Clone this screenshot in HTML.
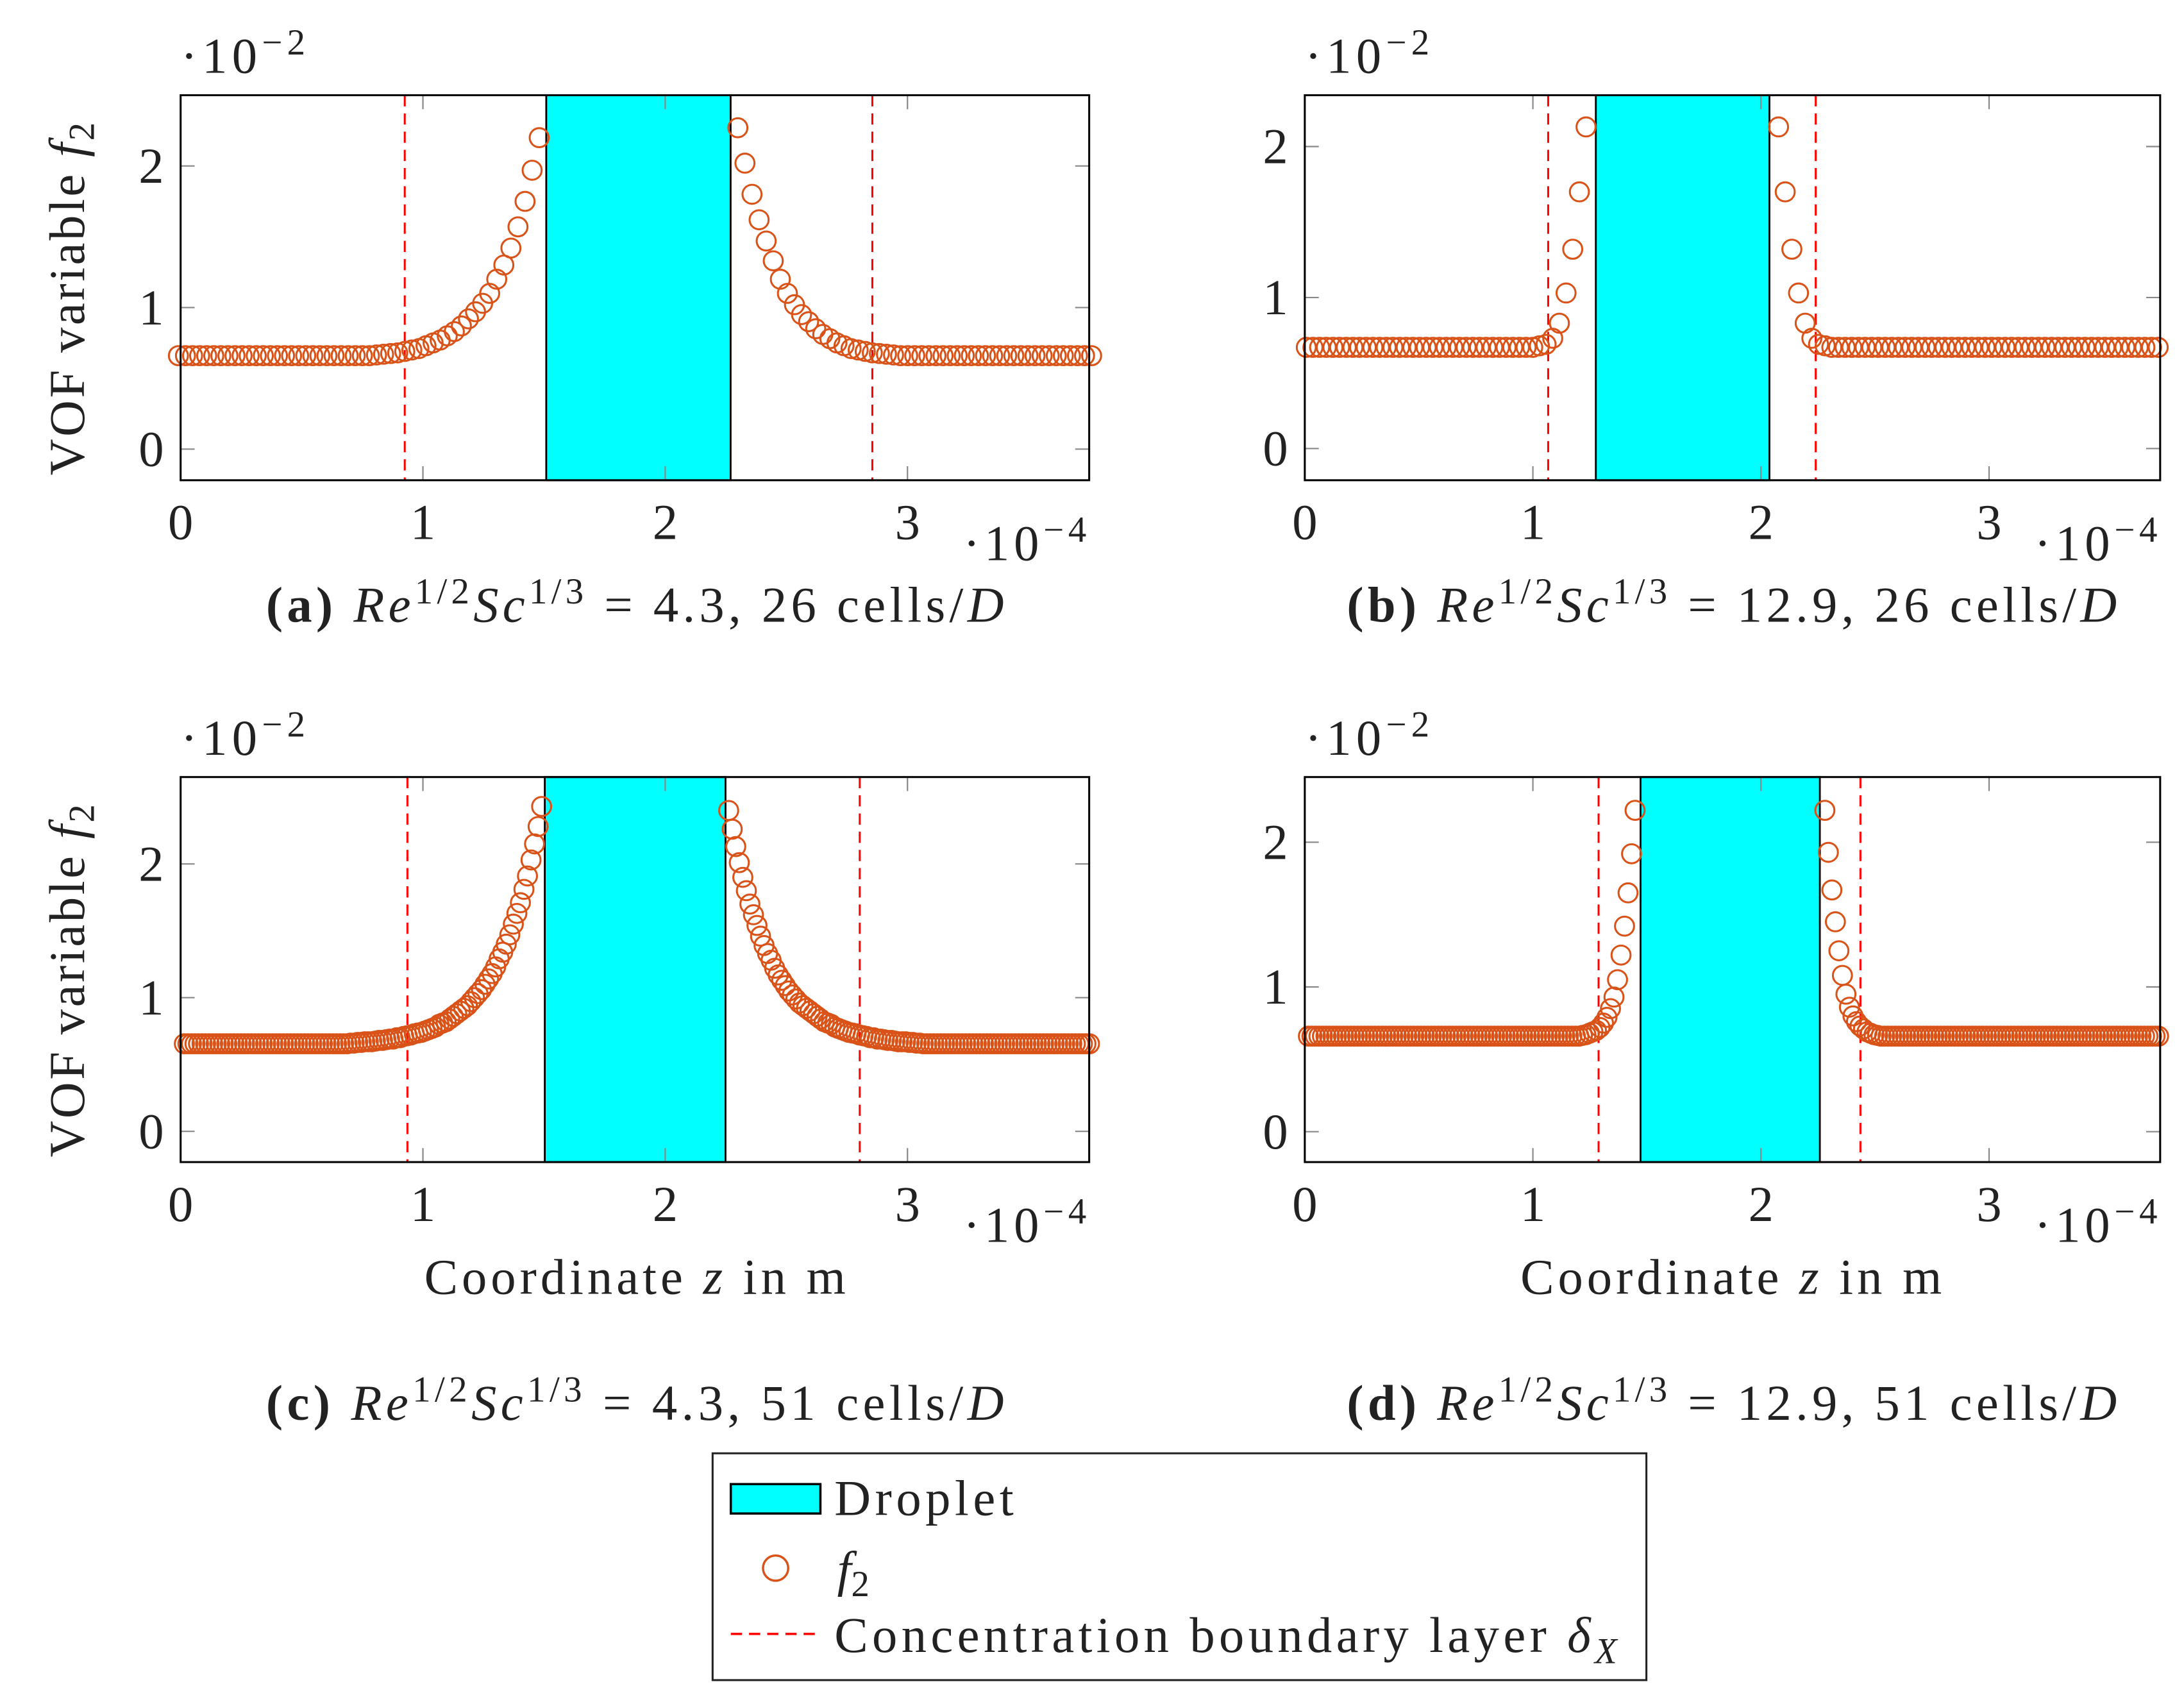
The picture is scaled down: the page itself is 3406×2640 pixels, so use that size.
<!DOCTYPE html>
<html><head><meta charset="utf-8"><style>
html,body{margin:0;padding:0;background:#fff}
svg{display:block}
text{font-family:"Liberation Serif",serif;fill:#222}
</style></head><body>
<svg id="fig" width="3406" height="2640" viewBox="0 0 1560 1209.2" xmlns="http://www.w3.org/2000/svg"></svg>
<script>
// ---------- data ----------
const panelIds = ['a','b','c','d'];
const captionRe = ['4.3','12.9','4.3','12.9'];
const captionCells = ['26','26','51','51'];
const xTicks = [0,1,2,3];
const yTicks = [0,1,2];
const xMin = 0, xMax = 3.75;
const yMinA = -0.22, yMaxA = 2.5;
const yMinB = -0.21, yMaxB = 2.34;
const yMinC = -0.23, yMaxC = 2.65;
const yMinD = -0.21, yMaxD = 2.45;
const dropletA = [1.509, 2.27], dropletB = [1.276, 2.037], dropletC = [1.503, 2.249], dropletD = [1.472, 2.258];
const layerA = [0.925, 2.855], layerB = [1.067, 2.24], layerC = [0.936, 2.803], layerD = [1.288, 2.436];
const cellA = 0.0292, cellB = 0.0292, cellC = 0.0146, cellD = 0.0154;
const flatA = 0.66, flatB = 0.67, flatC = 0.655, flatD = 0.66;
// near-droplet values, ordered from droplet surface outward
const leftNearA = [2.2,1.97,1.75,1.57,1.42,1.3,1.2,1.1,1.03,0.97,0.92,0.87,0.83,0.8,0.77,0.75,0.73,0.71,0.7,0.69,0.68,0.675,0.67,0.665];
const rightNearA = [2.27,2.02,1.8,1.62,1.47,1.33,1.2,1.1,1.02,0.95,0.9,0.85,0.81,0.78,0.75,0.73,0.71,0.7,0.69,0.68,0.675,0.67,0.665];
const leftNearB = [2.13,1.7,1.32,1.03,0.83,0.73,0.69,0.68];
const rightNearB = [2.13,1.7,1.32,1.03,0.83,0.73,0.69,0.68];
const leftNearC = [2.43,2.28,2.15,2.03,1.91,1.81,1.71,1.63,1.55,1.47,1.4,1.34,1.29,1.23,1.18,1.14,1.1,1.06,1.03,1.0,0.97,0.94,0.92,0.9,0.88,0.86,0.84,0.82,0.81,0.8,0.78,0.77,0.76,0.75,0.74,0.735,0.73,0.72,0.715,0.71,0.7,0.7,0.69,0.69,0.685,0.68,0.68,0.675,0.67,0.67,0.67,0.665,0.665,0.66,0.66];
const rightNearC = [2.4,2.26,2.13,2.01,1.9,1.8,1.7,1.62,1.54,1.46,1.39,1.33,1.28,1.22,1.17,1.13,1.09,1.05,1.02,0.99,0.96,0.94,0.92,0.9,0.88,0.86,0.84,0.82,0.81,0.8,0.78,0.77,0.76,0.75,0.74,0.735,0.73,0.72,0.715,0.71,0.7,0.7,0.69,0.69,0.685,0.68,0.68,0.675,0.67,0.67,0.67,0.665,0.665,0.66,0.66];
const leftNearD = [2.22,1.92,1.65,1.42,1.22,1.05,0.93,0.85,0.79,0.75,0.72,0.7,0.69,0.68,0.67,0.665];
const rightNearD = [2.22,1.93,1.67,1.45,1.25,1.08,0.95,0.86,0.8,0.76,0.73,0.71,0.69,0.68,0.67,0.665];
const leftFlatCountA = 28, rightFlatCountA = 29;
const leftFlatCountB = 36, rightFlatCountB = 51;
const leftFlatCountC = 47, rightFlatCountC = 48;
const leftFlatCountD = 78, rightFlatCountD = 80;
const leftStartA = 1.48, rightStartA = 2.30;
const leftStartB = 1.233, rightStartB = 2.077;
const leftStartC = 1.49, rightStartC = 2.262;
const leftStartD = 1.448, rightStartD = 2.28;

// ---------- layout (viewBox units) ----------
const boxes = [
  {x0:129,x1:778,y0:68,y1:343},
  {x0:932,x1:1543,y0:68,y1:343},
  {x0:129,x1:778,y0:555,y1:830},
  {x0:932,x1:1543,y0:555,y1:830}
];
const panels = [
  {yr:[yMinA,yMaxA],drop:dropletA,layer:layerA,h:cellA,flat:flatA,ln:leftNearA,rn:rightNearA,lf:leftFlatCountA,rf:rightFlatCountA,ls:leftStartA,rs:rightStartA},
  {yr:[yMinB,yMaxB],drop:dropletB,layer:layerB,h:cellB,flat:flatB,ln:leftNearB,rn:rightNearB,lf:leftFlatCountB,rf:rightFlatCountB,ls:leftStartB,rs:rightStartB},
  {yr:[yMinC,yMaxC],drop:dropletC,layer:layerC,h:cellC,flat:flatC,ln:leftNearC,rn:rightNearC,lf:leftFlatCountC,rf:rightFlatCountC,ls:leftStartC,rs:rightStartC},
  {yr:[yMinD,yMaxD],drop:dropletD,layer:layerD,h:cellD,flat:flatD,ln:leftNearD,rn:rightNearD,lf:leftFlatCountD,rf:rightFlatCountD,ls:leftStartD,rs:rightStartD}
];
const NS='http://www.w3.org/2000/svg';
const svg=document.getElementById('fig');
function mk(tag,attrs,parent){const e=document.createElementNS(NS,tag);for(const k in attrs)e.setAttribute(k,attrs[k]);(parent||svg).appendChild(e);return e;}
const ORANGE='#d95319';
const FS=36;

panels.forEach((p,i)=>{
  const b=boxes[i];
  const g=mk('g',{});
  
  
  const sx=v=>b.x0+(v-xMin)/(xMax-xMin)*(b.x1-b.x0);
  const sy=v=>b.y1-(v-p.yr[0])/(p.yr[1]-p.yr[0])*(b.y1-b.y0);
  const dr=mk('rect',{x:sx(p.drop[0]),y:b.y0,width:sx(p.drop[1])-sx(p.drop[0]),height:b.y1-b.y0,fill:'#00ffff',stroke:'#000','stroke-width':1.3},g);
  
  
  xTicks.forEach(t=>{
    const X=sx(t);
    mk('line',{x1:X,x2:X,y1:b.y1,y2:b.y1-10,stroke:'#888','stroke-width':1},g);
    mk('line',{x1:X,x2:X,y1:b.y0,y2:b.y0+10,stroke:'#888','stroke-width':1},g);
    const tl=mk('text',{x:X,y:b.y1+42,'text-anchor':'middle','font-size':FS},g);
    tl.textContent=t;
    
    
  });
  yTicks.forEach(t=>{
    const Y=sy(t);
    mk('line',{x1:b.x0,x2:b.x0+10,y1:Y,y2:Y,stroke:'#888','stroke-width':1},g);
    mk('line',{x1:b.x1,x2:b.x1-10,y1:Y,y2:Y,stroke:'#888','stroke-width':1},g);
    const tl=mk('text',{x:b.x0-12,y:Y+12,'text-anchor':'end','font-size':FS},g);
    tl.textContent=t;
    
    
  });
  p.layer.forEach(v=>{
    const l=mk('line',{x1:sx(v),x2:sx(v),y1:b.y0,y2:b.y1,stroke:'#ff0000','stroke-width':1.4,'stroke-dasharray':'8 5'},g);
    
    
  });
  const pts=[];
  p.ln.forEach((v,k)=>pts.push([p.ls-k*p.h,v]));
  for(let k=0;k<p.lf;k++)pts.push([p.ls-(p.ln.length+k)*p.h,p.flat]);
  p.rn.forEach((v,k)=>pts.push([p.rs+k*p.h,v]));
  for(let k=0;k<p.rf;k++)pts.push([p.rs+(p.rn.length+k)*p.h,p.flat]);
  pts.forEach(q=>{
    if(q[0]<xMin-0.02||q[0]>xMax+0.02)return;
    const c=mk('circle',{cx:sx(q[0]),cy:sy(q[1]),r:6.8,fill:'none',stroke:ORANGE,'stroke-width':1.4},g);
    
    
  });
  mk('rect',{x:b.x0,y:b.y0,width:b.x1-b.x0,height:b.y1-b.y0,fill:'none',stroke:'#000','stroke-width':1.4},g);
  const e1=mk('text',{x:b.x0,y:b.y0-16,'font-size':FS,textLength:89,lengthAdjust:'spacing'},g);
  e1.innerHTML='·10<tspan dy="-13" font-size="26">−2</tspan>';
  
  
  const e2=mk('text',{x:b.x1-90,y:b.y1+57,'font-size':FS,textLength:88,lengthAdjust:'spacing'},g);
  e2.innerHTML='·10<tspan dy="-13" font-size="26">−4</tspan>';
  
  
  if(i%2===0){
    const yt=mk('text',{x:0,y:0,'font-size':FS,'text-anchor':'middle',textLength:252,lengthAdjust:'spacing',transform:`translate(60,${(b.y0+b.y1)/2+8}) rotate(-90)`},g);
    yt.innerHTML='VOF variable <tspan font-style="italic">f</tspan><tspan dy="7" font-size="26">2</tspan>';
    
    
  }
  if(i>=2){
    const xl = i===2 ? 303 : 1086;
    const xt=mk('text',{x:xl,y:b.y1+94,'font-size':FS,textLength:301,lengthAdjust:'spacing'},g);
    xt.innerHTML='Coordinate <tspan font-style="italic">z</tspan> in m';
    
    
  }
  const cy = i<2 ? 444 : 1014;
  const cx = i%2===0 ? 190 : 962;
  const cw = i%2===0 ? 527 : 550;
  const cap=mk('text',{x:cx,y:cy,'font-size':FS,textLength:cw,lengthAdjust:'spacing'},g);
  cap.innerHTML='<tspan font-weight="bold">('+panelIds[i]+')</tspan> <tspan font-style="italic">Re</tspan><tspan dy="-13" font-size="26">1/2</tspan><tspan dy="13" font-style="italic">Sc</tspan><tspan dy="-13" font-size="26">1/3</tspan><tspan dy="13"> = '+captionRe[i]+', '+captionCells[i]+' cells/</tspan><tspan font-style="italic">D</tspan>';
  
  
});

const lg=mk('g',{});


mk('rect',{x:509,y:1038,width:667,height:162,fill:'#fff',stroke:'#222','stroke-width':1.4},lg);
mk('rect',{x:522,y:1060,width:64,height:21,fill:'#00ffff',stroke:'#000','stroke-width':1.6},lg);
const t1=mk('text',{x:596,y:1082,'font-size':FS,textLength:128,lengthAdjust:'spacing'},lg);t1.textContent='Droplet';


mk('circle',{cx:554,cy:1120,r:9,fill:'none',stroke:ORANGE,'stroke-width':1.6},lg);
const t2=mk('text',{x:598,y:1133,'font-size':FS},lg);t2.innerHTML='<tspan font-style="italic">f</tspan><tspan dy="7" font-size="26">2</tspan>';


mk('line',{x1:522,x2:586,y1:1167,y2:1167,stroke:'#ff0000','stroke-width':1.6,'stroke-dasharray':'8 5'},lg);
const t3=mk('text',{x:596,y:1180,'font-size':FS,textLength:559,lengthAdjust:'spacing'},lg);t3.innerHTML='Concentration boundary layer <tspan font-style="italic">δ</tspan><tspan dy="8" font-size="26" font-style="italic">X</tspan>';


</script>
</body></html>
